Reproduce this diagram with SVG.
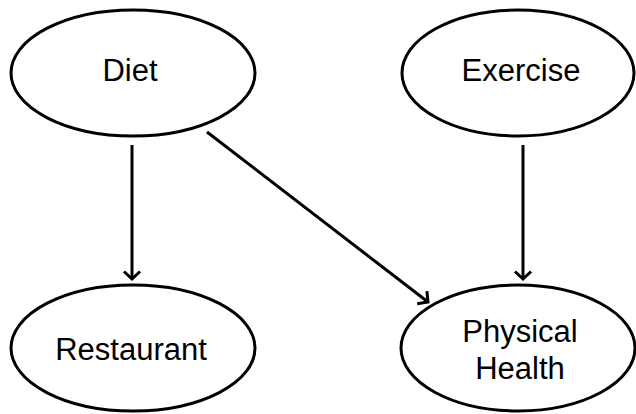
<svg xmlns="http://www.w3.org/2000/svg" width="636" height="414" viewBox="0 0 636 414">
<style>
.node ellipse{fill:#fff;stroke:#000;stroke-width:3}
.node text{font-family:"Liberation Sans",Arial,sans-serif;font-size:31px;fill:#000;text-anchor:middle}
.edge{stroke:#000;stroke-width:3;fill:none;marker-end:url(#arr)}
</style>
<defs>
<marker id="arr" viewBox="0 0 20 20" refX="17.5" refY="10" markerWidth="20" markerHeight="20" markerUnits="userSpaceOnUse" orient="auto">
<path d="M10,2 L17.5,10 L10,18" fill="none" stroke="#000" stroke-width="3"/>
</marker>
</defs>
<rect width="636" height="414" fill="#fff"/>
<g id="connectors">
<line class="edge" x1="132" y1="145" x2="132" y2="279"/>
<line class="edge" x1="523" y1="145" x2="523" y2="279"/>
<line class="edge" x1="207" y1="132" x2="428" y2="302"/>
</g>
<g id="diet" class="node">
<ellipse cx="133" cy="73" rx="122" ry="63"/>
<text x="130" y="81">Diet</text>
</g>
<g id="exercise" class="node">
<ellipse cx="518" cy="73" rx="116" ry="63"/>
<text x="521" y="81">Exercise</text>
</g>
<g id="restaurant" class="node">
<ellipse cx="133" cy="348" rx="122" ry="63"/>
<text x="131" y="360">Restaurant</text>
</g>
<g id="physical" class="node">
<ellipse cx="518" cy="348" rx="117" ry="63"/>
<text x="520" y="342">Physical</text>
<text x="520" y="379">Health</text>
</g>
</svg>
